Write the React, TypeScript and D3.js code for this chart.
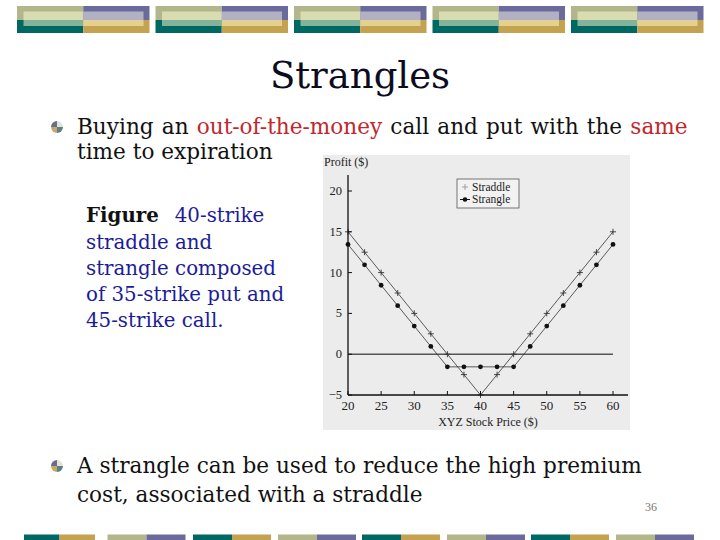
import React from "react";
import * as d3 from "d3";

// stock prices at expiration, every 2.5
const prices = [20, 22.5, 25, 27.5, 30, 32.5, 35, 37.5, 40, 42.5, 45, 47.5, 50, 52.5, 55, 57.5, 60];
// 40-strike straddle profit
const straddle = [15, 12.5, 10, 7.5, 5, 2.5, 0, -2.5, -5, -2.5, 0, 2.5, 5, 7.5, 10, 12.5, 15];
// 35/45 strangle profit
const strangle = [13.45, 10.95, 8.45, 5.95, 3.45, 0.95, -1.55, -1.55, -1.55, -1.55, -1.55, 0.95, 3.45, 5.95, 8.45, 10.95, 13.45];
const xTicks = [20, 25, 30, 35, 40, 45, 50, 55, 60];
const yTicks = [-5, 0, 5, 10, 15, 20];
const legendItems = ["Straddle", "Strangle"];

// header / footer strip blocks
const headerStarts = [17, 155.5, 294, 432.5, 571];
const footerStarts = [24, 107.5, 193, 278, 362, 447, 531, 616];

const serif = "'Liberation Serif', 'Times New Roman', serif";
const slideFont = "'DejaVu Serif', serif";

function Bullet({ cx, cy }: { cx: number; cy: number }) {
  const r = 6;
  const arc = d3.arc<any>().innerRadius(0).outerRadius(r);
  const quads = [
    { a0: -Math.PI / 2, a1: 0, c: "#686c8e" },
    { a0: 0, a1: Math.PI / 2, c: "#e4e4d6" },
    { a0: Math.PI / 2, a1: Math.PI, c: "#5d7f8c" },
    { a0: Math.PI, a1: Math.PI * 1.5, c: "#c9a766" },
  ];
  return (
    <g transform={`translate(${cx},${cy})`}>
      {quads.map((q, i) => (
        <path key={i} d={arc({ startAngle: q.a0, endAngle: q.a1 }) || ""} fill={q.c} />
      ))}
    </g>
  );
}

function HeaderBlock({ x }: { x: number }) {
  const w = 132.5;
  const h = w / 2;
  return (
    <g>
      <rect x={x} y={6} width={h} height={14} fill="#b3b68a" />
      <rect x={x + h} y={6} width={h} height={14} fill="#6a6a9c" />
      <rect x={x} y={20} width={h} height={13} fill="#006863" />
      <rect x={x + h} y={20} width={h} height={13} fill="#c4a24f" />
      <rect x={x + 6.5} y={11.5} width={h - 6.5} height={8.5} fill="#d9dcb0" />
      <rect x={x + h} y={11.5} width={h - 6} height={8.5} fill="#b1b1c3" />
      <rect x={x + 6.5} y={20} width={h - 6.5} height={6} fill="#83b39b" />
      <rect x={x + h} y={20} width={h - 6} height={6} fill="#e3d192" />
    </g>
  );
}

function StrangleChart() {
  const x = d3.scaleLinear().domain([20, 60]).range([348, 613]);
  const y = d3.scaleLinear().domain([-5, 20]).range([395, 191]);
  const line = d3
    .line<number>()
    .x((d, i) => x(prices[i]))
    .y((d) => y(d));

  return (
    <g fontFamily={serif} fill="#222">
      <rect x={323} y={155} width={307} height={275} fill="#ececec" />
      <text x={324} y={166} fontSize={12}>
        Profit ($)
      </text>

      {/* zero line */}
      <line x1={x(20)} x2={x(60)} y1={y(0)} y2={y(0)} stroke="#555" strokeWidth={1.6} />

      {/* curves */}
      <path d={line(straddle) || ""} fill="none" stroke="#333" strokeWidth={0.8} />
      <path d={line(strangle) || ""} fill="none" stroke="#333" strokeWidth={0.8} />

      {straddle.map((v, i) => (
        <g key={"s" + i} transform={`translate(${x(prices[i])},${y(v)})`} stroke="#333" strokeWidth={0.9}>
          <line x1={-3} x2={3} y1={0} y2={0} />
          <line x1={0} x2={0} y1={-3} y2={3} />
        </g>
      ))}
      {strangle.map((v, i) => (
        <circle key={"g" + i} cx={x(prices[i])} cy={y(v)} r={2.4} fill="#111" />
      ))}

      {/* axes */}
      <line x1={x(20)} x2={628} y1={y(-5)} y2={y(-5)} stroke="#111" strokeWidth={1.3} />
      <line x1={x(20)} x2={x(20)} y1={y(-5)} y2={175} stroke="#111" strokeWidth={1.3} />
      {xTicks.map((t) => (
        <g key={"x" + t}>
          <line x1={x(t)} x2={x(t)} y1={y(-5)} y2={y(-5) - 4} stroke="#111" strokeWidth={1} />
          <text x={x(t)} y={y(-5) + 15} fontSize={13} textAnchor="middle">
            {t}
          </text>
        </g>
      ))}
      {yTicks.map((t) => (
        <g key={"y" + t}>
          <line x1={x(20)} x2={x(20) + 4} y1={y(t)} y2={y(t)} stroke="#111" strokeWidth={1} />
          <text x={x(20) - 6} y={y(t) + 4} fontSize={12.5} textAnchor="end">
            {t < 0 ? "\u2212" + Math.abs(t) : t}
          </text>
        </g>
      ))}
      <text x={488} y={426} fontSize={12} textAnchor="middle">
        XYZ Stock Price ($)
      </text>

      {/* legend */}
      <rect x={457} y={179} width={62} height={29} fill="#f2f2f2" stroke="#555" strokeWidth={0.8} />
      {legendItems.map((name, i) => {
        const ly = 187 + i * 12.5;
        return (
          <g key={name}>
            {i === 0 ? (
              <g stroke="#999" strokeWidth={0.9}>
                <line x1={462} x2={468} y1={ly} y2={ly} />
                <line x1={465} x2={465} y1={ly - 3} y2={ly + 3} />
              </g>
            ) : (
              <g>
                <line x1={460} x2={470} y1={ly} y2={ly} stroke="#111" strokeWidth={1} />
                <circle cx={465} cy={ly} r={2.3} fill="#111" />
              </g>
            )}
            <text x={472} y={ly + 3.5} fontSize={11.5}>
              {name}
            </text>
          </g>
        );
      })}
    </g>
  );
}

export default function App() {
  return (
    <svg
      width={720}
      height={540}
      style={{ position: "absolute", left: 0, top: 0, background: "#fff" }}
    >
      <rect width={720} height={540} fill="#fff" />
      {headerStarts.map((s) => (
        <HeaderBlock key={s} x={s} />
      ))}
      {footerStarts.map((s, i) => {
        const w = i === 0 ? 71 : 78;
        const dark = i % 2 === 0;
        return (
          <g key={s}>
            <rect x={s} y={534.5} width={w / 2} height={6} fill={dark ? "#006863" : "#b3b68a"} />
            <rect x={s + w / 2} y={534.5} width={w / 2} height={6} fill={dark ? "#c4a24f" : "#6a6a9c"} />
          </g>
        );
      })}

      <text x={360} y={88} fontFamily={slideFont} fontSize={37} textAnchor="middle" fill="#0c0c1e">
        Strangles
      </text>

      <Bullet cx={57} cy={127} />
      <text x={77} y={134} fontFamily={slideFont} fontSize={21.6} fill="#111" wordSpacing={1.3}>
        Buying an <tspan fill="#c1272d">out-of-the-money</tspan> call and put with the{" "}
        <tspan fill="#c1272d">same</tspan>
      </text>
      <text x={77} y={159} fontFamily={slideFont} fontSize={21.6} fill="#111">
        time to expiration
      </text>

      <g fontFamily={slideFont} fontSize={19.8} fill="#1c1c9a">
        <text x={86} y={222}>
          <tspan fill="#111" fontWeight="bold">Figure</tspan>
          <tspan dx={16}>40-strike</tspan>
        </text>
        <text x={86} y={249}>straddle and</text>
        <text x={86} y={275}>strangle composed</text>
        <text x={86} y={301}>of 35-strike put and</text>
        <text x={86} y={327}>45-strike call.</text>
      </g>

      <StrangleChart />

      <Bullet cx={57} cy={466} />
      <text x={77} y={473} fontFamily={slideFont} fontSize={21.6} fill="#111">
        A strangle can be used to reduce the high premium
      </text>
      <text x={77} y={502} fontFamily={slideFont} fontSize={21.6} fill="#111">
        cost, associated with a straddle
      </text>
      <text x={645} y={511} fontFamily={serif} fontSize={12} fill="#777">
        36
      </text>
    </svg>
  );
}
